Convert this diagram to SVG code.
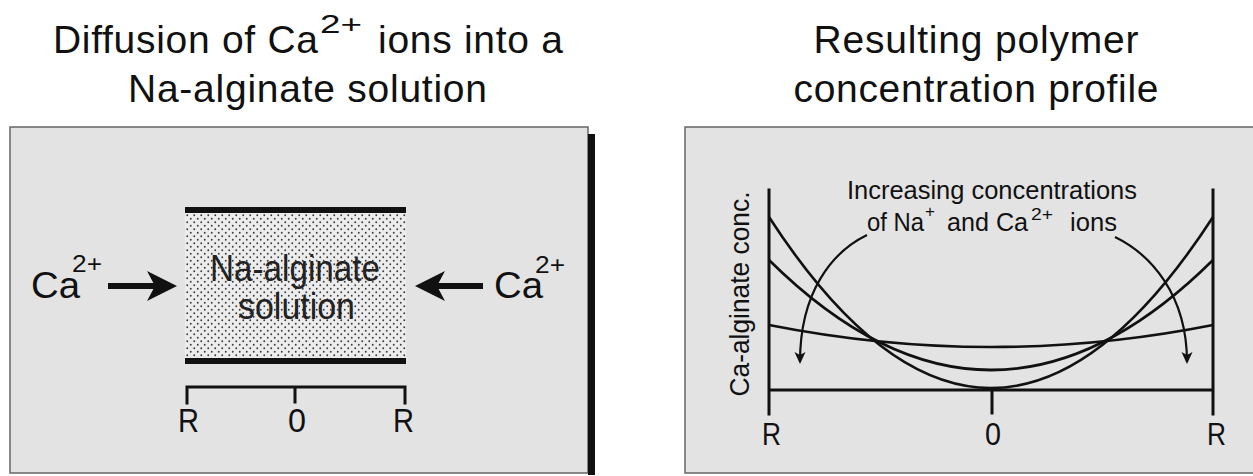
<svg xmlns="http://www.w3.org/2000/svg" width="1253" height="476" viewBox="0 0 1253 476">
<defs>
<style>
text{font-family:"Liberation Sans",Arial,Helvetica,sans-serif;fill:#111;}
.title{font-size:39px;}
.lbl{font-size:34px;}
.ca{font-size:36px;}
.sup{font-size:24px;}
.ax{stroke:#111;stroke-width:3;fill:none;stroke-linecap:square;}
.curve{stroke:#111;stroke-width:2.6;fill:none;}
.panel{fill:#e3e3e3;stroke:#666;stroke-width:1.5;}
.note{font-size:25px;}
.nsup{font-size:17px;}
</style>
<pattern id="dots" width="7" height="7" patternUnits="userSpaceOnUse">
<circle cx="1.75" cy="1.75" r="0.95" fill="#3a3a3a"/>
<circle cx="5.25" cy="5.25" r="0.95" fill="#3a3a3a"/>
</pattern>
<marker id="ah" viewBox="0 0 12 12" refX="10" refY="6" markerWidth="12" markerHeight="12" markerUnits="userSpaceOnUse" orient="auto">
<path d="M0,0.5 L12,6 L0,11.5 L3,6 z" fill="#111"/>
</marker>
</defs>

<g id="title-left">
<text class="title" x="53" y="53" textLength="265" lengthAdjust="spacing">Diffusion of Ca</text>
<text class="sup" x="320" y="33" style="font-size:26px" textLength="42" lengthAdjust="spacingAndGlyphs">2+</text>
<text class="title" x="378" y="53" textLength="185" lengthAdjust="spacing">ions into a</text>
<text class="title" x="128" y="102" textLength="359" lengthAdjust="spacing">Na-alginate solution</text>
</g>
<g id="title-right">
<text class="title" x="976" y="53" text-anchor="middle" textLength="325" lengthAdjust="spacing">Resulting polymer</text>
<text class="title" x="976" y="102" text-anchor="middle" textLength="365" lengthAdjust="spacing">concentration profile</text>
</g>

<g id="panel-left">
<rect class="panel" x="10" y="127" width="578" height="346"/>
<rect x="588" y="134" width="7" height="341" fill="#111"/>
</g>

<g id="solution-box">
<rect x="185" y="213" width="221" height="145" fill="#ececec"/>
<rect x="185" y="213" width="221" height="145" fill="url(#dots)"/>
<rect x="185" y="207" width="221" height="6" fill="#111"/>
<rect x="185" y="358" width="221" height="6" fill="#111"/>
<text x="210" y="281" style="font-size:36px;fill:#222" textLength="170" lengthAdjust="spacingAndGlyphs">Na-alginate</text>
<text x="238" y="319" style="font-size:36px;fill:#222" textLength="117" lengthAdjust="spacingAndGlyphs">solution</text>
</g>

<g id="ca-left">
<text class="ca" x="31" y="298" textLength="49" lengthAdjust="spacingAndGlyphs">Ca</text>
<text class="sup" x="72" y="272" textLength="30" lengthAdjust="spacingAndGlyphs">2+</text>
</g>
<g id="ca-right">
<text class="ca" x="494" y="298" textLength="49" lengthAdjust="spacingAndGlyphs">Ca</text>
<text class="sup" x="535" y="273" textLength="30" lengthAdjust="spacingAndGlyphs">2+</text>
</g>

<g id="scale-left">
<path class="ax" d="M187,403 V387 H405 V403 M295,387 V402"/>
<text class="lbl" x="178" y="432" textLength="21" lengthAdjust="spacingAndGlyphs">R</text>
<text class="lbl" x="288" y="432" textLength="18" lengthAdjust="spacingAndGlyphs">0</text>
<text class="lbl" x="393" y="432" textLength="21" lengthAdjust="spacingAndGlyphs">R</text>
</g>

<g id="panel-right">
<rect class="panel" x="685" y="127" width="600" height="346"/>
</g>

<g id="plot">
<path class="ax" d="M769,190 V414 M1213,190 V414 M769,390 H1213 M992,390 V413"/>
<text x="762" y="445" style="font-size:31px" textLength="19" lengthAdjust="spacingAndGlyphs">R</text>
<text x="985" y="445" style="font-size:31px" textLength="16" lengthAdjust="spacingAndGlyphs">0</text>
<text x="1207" y="445" style="font-size:31px" textLength="19" lengthAdjust="spacingAndGlyphs">R</text>
<text transform="translate(749,294) rotate(-90)" text-anchor="middle" style="font-size:27px" textLength="205" lengthAdjust="spacingAndGlyphs">Ca-alginate conc.</text>
<path class="curve" d="M769,217 Q991,559 1213,217"/>
<path class="curve" d="M769,260 Q991,480 1213,260"/>
<path class="curve" d="M769,325 Q991,369 1213,325"/>
</g>

<g id="note">
<text class="note" x="847" y="199" textLength="290" lengthAdjust="spacingAndGlyphs">Increasing concentrations</text>
<text class="note" x="867" y="231" textLength="57" lengthAdjust="spacingAndGlyphs">of Na</text>
<text class="nsup" x="925" y="217">+</text>
<text class="note" x="947" y="231" textLength="81" lengthAdjust="spacingAndGlyphs">and Ca</text>
<text class="nsup" x="1031" y="220" textLength="22" lengthAdjust="spacingAndGlyphs">2+</text>
<text class="note" x="1070" y="231" textLength="47" lengthAdjust="spacingAndGlyphs">ions</text>
</g>

<g id="connectors">
<line x1="108" y1="286" x2="158" y2="286" stroke="#111" stroke-width="6"/>
<path d="M177,286 L147,271 L155,286 L147,301 z" fill="#111"/>
<line x1="483" y1="286" x2="434" y2="286" stroke="#111" stroke-width="6"/>
<path d="M415,286 L445,271 L437,286 L445,301 z" fill="#111"/>
<path d="M867,235 C832,252 800,292 800,362" fill="none" stroke="#111" stroke-width="2.2" marker-end="url(#ah)"/>
<path d="M1115,237 C1150,254 1187,294 1187,362" fill="none" stroke="#111" stroke-width="2.2" marker-end="url(#ah)"/>
</g>
</svg>
